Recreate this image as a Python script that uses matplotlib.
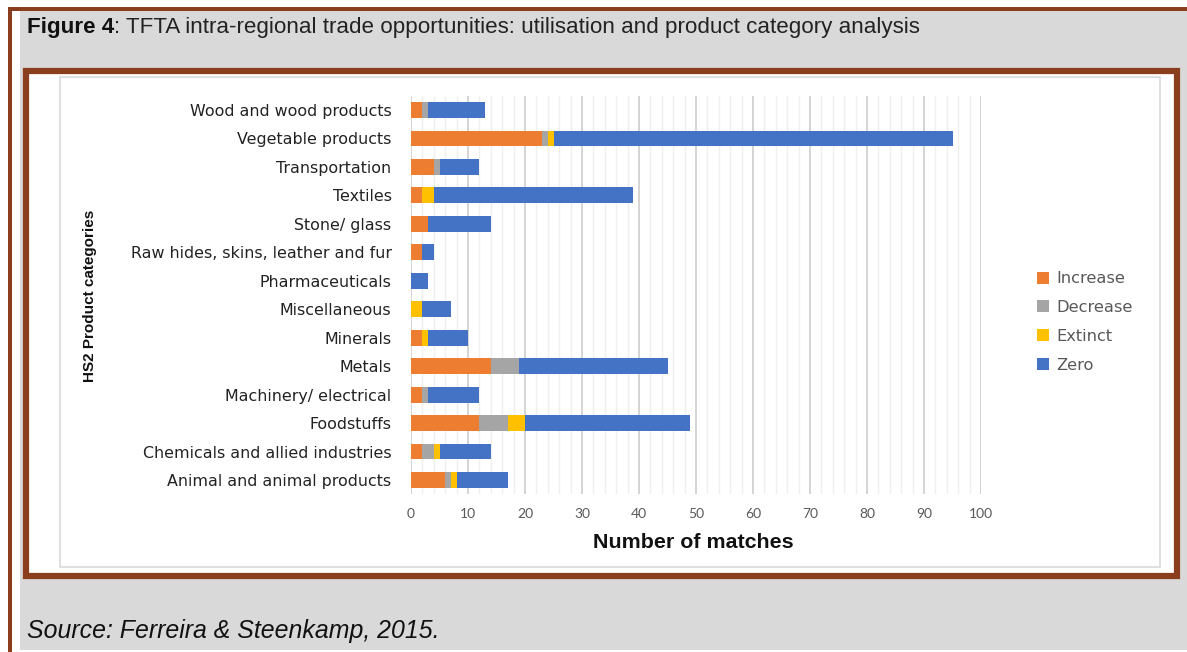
import matplotlib
matplotlib.use("Agg")
import matplotlib.pyplot as plt
from matplotlib.patches import Rectangle, Patch
import numpy as np

# data (top row first)
categories = ["Wood and wood products", "Vegetable products", "Transportation",
              "Textiles", "Stone/ glass", "Raw hides, skins, leather and fur",
              "Pharmaceuticals", "Miscellaneous", "Minerals", "Metals",
              "Machinery/ electrical", "Foodstuffs",
              "Chemicals and allied industries", "Animal and animal products"]
increase = [2, 23, 4, 2, 3, 2, 0, 0, 2, 14, 2, 12, 2, 6]
decrease = [1, 1, 1, 0, 0, 0, 0, 0, 0, 5, 1, 5, 2, 1]
extinct  = [0, 1, 0, 2, 0, 0, 0, 2, 1, 0, 0, 3, 1, 1]
zero     = [10, 70, 7, 35, 11, 2, 3, 5, 7, 26, 9, 29, 9, 9]
series_names = ["Increase", "Decrease", "Extinct", "Zero"]
colors = ["#ED7D31", "#A5A5A5", "#FFC000", "#4472C4"]
x_ticks = list(range(0, 101, 10))

plt.rcParams['font.family'] = ['Liberation Sans', 'DejaVu Sans']

W, H = 1187, 652
fig = plt.figure(figsize=(W / 100, H / 100), dpi=100)
fig.patch.set_facecolor("white")

BROWN = "#8B3E1E"

def box(x0, y0, x1, y1, **kw):
    # pixel coords, top-left origin
    r = Rectangle((x0 / W, 1 - y1 / H), (x1 - x0) / W, (y1 - y0) / H,
                  transform=fig.transFigure, **kw)
    fig.add_artist(r)
    return r

# outer frame
box(20, 11, W, 650, facecolor="#D9D9D9", edgecolor="none", zorder=0)
box(8, 7, W, 11, facecolor=BROWN, edgecolor="none", zorder=1)
box(8, 7, 12, H, facecolor=BROWN, edgecolor="none", zorder=1)
# inner chart box
box(26, 71, 1177, 576, facecolor="white", edgecolor=BROWN, linewidth=4.5, zorder=1)
box(60, 77, 1160, 567, facecolor="white", edgecolor="#D9D9D9", linewidth=1.2, zorder=2)

# title
t1 = fig.text(27 / W, 1 - 28 / H, "Figure 4", fontsize=16.1, fontweight="bold",
              color="#111111", va="center", ha="left")
fig.canvas.draw()
bb = t1.get_window_extent(fig.canvas.get_renderer())
fig.text(bb.x1 / W, 1 - 28 / H, ": TFTA intra-regional trade opportunities: utilisation and product category analysis",
         fontsize=16.1, color="#222222", va="center", ha="left")

# source
fig.text(27 / W, 1 - 631 / H, "Source: Ferreira & Steenkamp, 2015.",
         fontsize=17.9, style="italic", color="#111111", va="center", ha="left")

# axes
ax_l, ax_r, ax_t, ax_b = 411, 981, 95.8, 494.2
ax = fig.add_axes([ax_l / W, 1 - ax_b / H, (ax_r - ax_l) / W, (ax_b - ax_t) / H], zorder=3)
ax.set_facecolor("none")

y = np.arange(len(categories))[::-1]
left = np.zeros(len(categories))
for vals, name, c in zip([increase, decrease, extinct, zero], series_names, colors):
    ax.barh(y, vals, left=left, height=0.56, color=c, label=name, zorder=3)
    left = left + np.array(vals)

ax.set_xlim(0, 100)
ax.set_ylim(-0.5, len(categories) - 0.5)
ax.set_xticks(x_ticks)
ax.set_xticks(np.arange(0, 101, 2), minor=True)
ax.grid(axis="x", which="major", color="#D4D4D4", linewidth=1.4, zorder=0)
ax.grid(axis="x", which="minor", color="#EFEFEF", linewidth=1.0, zorder=0)
ax.set_axisbelow(True)
for s in ax.spines.values():
    s.set_visible(False)
ax.set_yticks(y)
ax.set_yticklabels(categories, fontsize=11.4, color="#222222", family="DejaVu Sans")
ax.tick_params(axis="y", length=0, pad=14)
ax.tick_params(axis="x", which="both", length=0, pad=10, labelsize=10, labelcolor="#595959")
for lbl in ax.get_xticklabels():
    lbl.set_family("Lato")

fig.text(693 / W, 1 - 543 / H, "Number of matches", fontsize=15.4, fontweight="bold",
         color="#111111", ha="center", va="center")
fig.text(90 / W, 1 - 296 / H, "HS2 Product categories", fontsize=11,
         fontweight="bold", rotation=90, color="#111111", ha="center", va="center")

handles = [Patch(facecolor=c, edgecolor="none") for c in colors]
leg = fig.legend(handles, series_names, loc="center left",
                 bbox_to_anchor=(1022 / W, 1 - 322 / H), frameon=False,
                 handlelength=0.75, handleheight=0.75, handletextpad=0.45,
                 labelspacing=0.85, prop={"family": "DejaVu Sans", "size": 11.7})
for txt in leg.get_texts():
    txt.set_color("#595959")

fig.savefig("out.png", dpi=100)
